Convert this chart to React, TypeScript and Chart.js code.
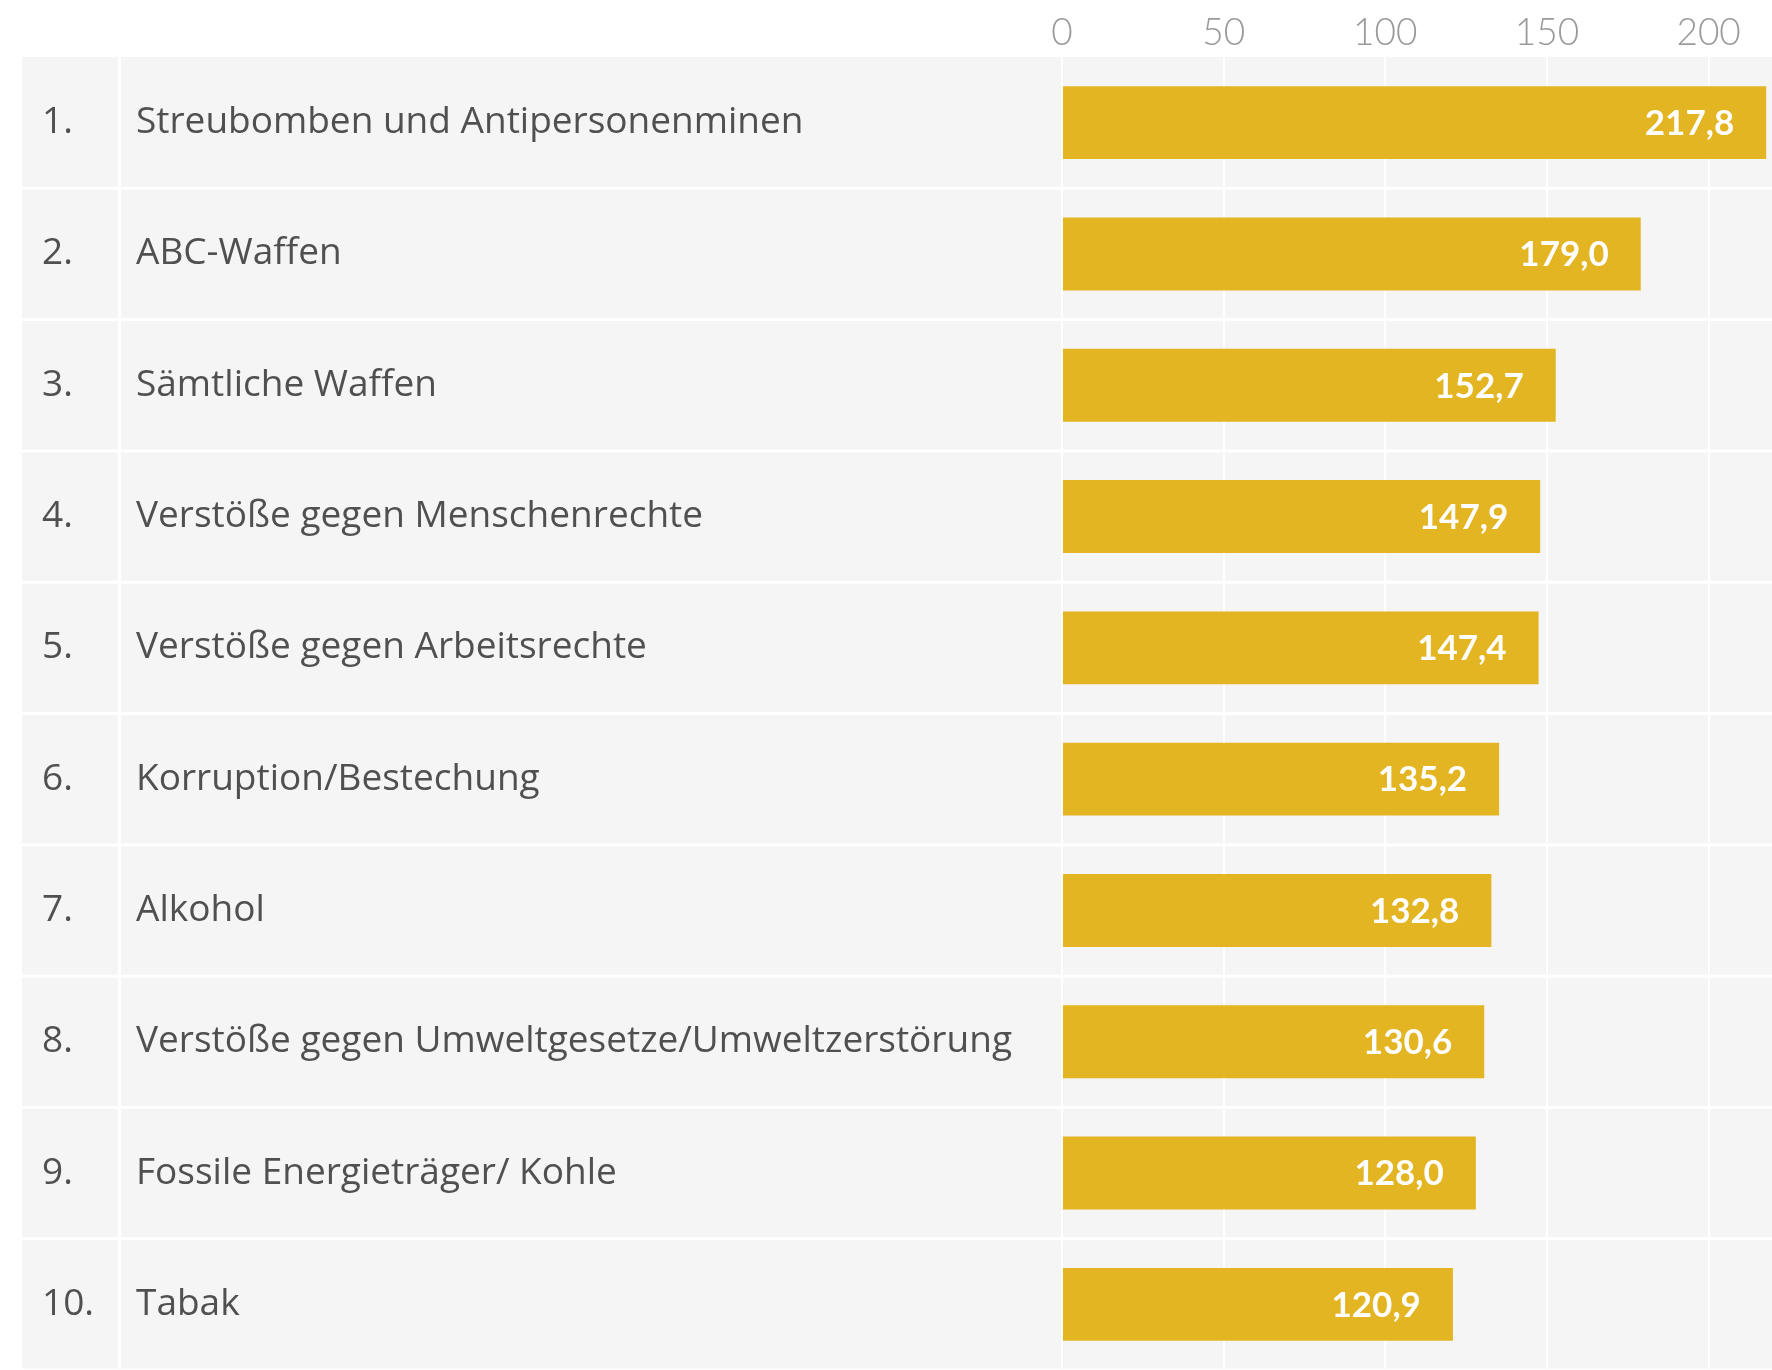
import React, { useEffect, useRef } from "react";
import { Chart, registerables } from "chart.js";

Chart.register(...registerables);

const ranks = ["1.", "2.", "3.", "4.", "5.", "6.", "7.", "8.", "9.", "10."];
const categories = [
  "Streubomben und Antipersonenminen",
  "ABC-Waffen",
  "Sämtliche Waffen",
  "Verstöße gegen Menschenrechte",
  "Verstöße gegen Arbeitsrechte",
  "Korruption/Bestechung",
  "Alkohol",
  "Verstöße gegen Umweltgesetze/Umweltzerstörung",
  "Fossile Energieträger/ Kohle",
  "Tabak",
];
const values = [217.8, 179.0, 152.7, 147.9, 147.4, 135.2, 132.8, 130.6, 128.0, 120.9];
const tickValues = [0, 50, 100, 150, 200];

const W = 1772;
const H = 1370;
const LABEL_FONT = "'Open Sans', Lato, sans-serif";
const NUM_FONT = "Lato, 'Open Sans', sans-serif";
const BAR = "#E3B522";
const ROW_BG = "#F5F5F5";
const TEXT = "#505050";
const TICK = "#9A9A9A";

export default function App() {
  const ref = useRef<HTMLCanvasElement | null>(null);

  useEffect(() => {
    document.body.style.margin = "0";
    const canvas = ref.current;
    if (!canvas) return;

    const rowsPlugin = {
      id: "rows",
      beforeDraw(chart: any) {
        const { ctx, chartArea, scales } = chart;
        const y = scales.y;
        const n = categories.length;
        const rowH = (chartArea.bottom - chartArea.top) / n;
        ctx.save();
        ctx.fillStyle = ROW_BG;
        for (let i = 0; i < n; i++) {
          const c = y.getPixelForValue(i);
          const top = c - rowH / 2;
          ctx.fillRect(22, top + (i === 0 ? 0 : 1.5), W - 22, rowH - (i === 0 ? 1.5 : 3));
        }
        ctx.fillStyle = "#FFFFFF";
        ctx.fillRect(118, chartArea.top, 3, chartArea.bottom - chartArea.top);
        ctx.fillStyle = TEXT;
        ctx.font = `37px ${LABEL_FONT}`;
        ctx.textAlign = "left";
        ctx.textBaseline = "middle";
        for (let i = 0; i < n; i++) {
          ctx.fillText(ranks[i], 42, y.getPixelForValue(i));
        }
        ctx.restore();
      },
    };

    const valuePlugin = {
      id: "values",
      afterDatasetsDraw(chart: any) {
        const { ctx } = chart;
        const meta = chart.getDatasetMeta(0);
        ctx.save();
        ctx.fillStyle = "#FFFFFF";
        ctx.font = `bold 35px ${NUM_FONT}`;
        ctx.textAlign = "right";
        ctx.textBaseline = "middle";
        meta.data.forEach((el: any, i: number) => {
          ctx.fillText(values[i].toFixed(1).replace(".", ","), el.x - 32, el.y + 1);
        });
        ctx.restore();
      },
    };

    const chart = new Chart(canvas, {
      type: "bar",
      data: {
        labels: categories,
        datasets: [
          {
            data: values,
            backgroundColor: BAR,
            borderWidth: 0,
            categoryPercentage: 1,
            barPercentage: 0.555,
          },
        ],
      },
      options: {
        indexAxis: "y",
        responsive: false,
        animation: false,
        devicePixelRatio: 1,
        layout: { padding: { left: 136, top: 0, right: 0, bottom: 0 } },
        plugins: {
          legend: { display: false },
          tooltip: { enabled: false },
        },
        scales: {
          x: {
            type: "linear",
            position: "top",
            min: 0,
            max: 219.6,
            afterFit(scale: any) {
              scale.height = 57;
              scale.paddingLeft = 0;
              scale.paddingRight = 0;
            },
            afterBuildTicks(scale: any) {
              scale.ticks = tickValues.map((v) => ({ value: v }));
            },
            ticks: {
              color: TICK,
              font: { family: NUM_FONT, size: 37, weight: "300" },
              padding: 2,
            },
            grid: {
              color: "#FFFFFF",
              lineWidth: 2,
              drawTicks: false,
            },
            border: { display: false },
          },
          y: {
            type: "category",
            afterFit(scale: any) {
              scale.width = 1062 - 136;
              scale.paddingTop = 0;
              scale.paddingBottom = 0;
            },
            ticks: {
              color: TEXT,
              font: { family: LABEL_FONT, size: 37 },
              crossAlign: "far",
              padding: 0,
            },
            grid: { display: false, drawTicks: false },
            border: { display: false },
          },
        },
      },
      plugins: [rowsPlugin, valuePlugin],
    } as any);

    return () => chart.destroy();
  }, []);

  return (
    <div style={{ width: W, height: H }}>
      <canvas ref={ref} width={W} height={H} style={{ display: "block" }} />
    </div>
  );
}
